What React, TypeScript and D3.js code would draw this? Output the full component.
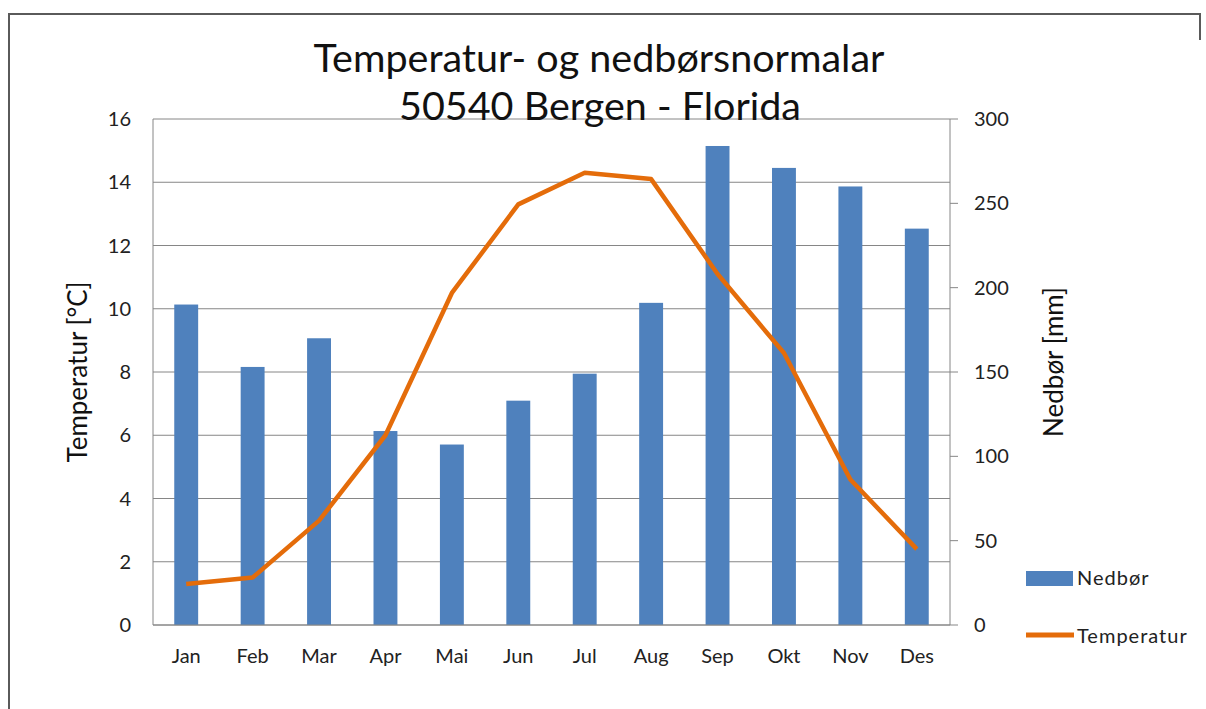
import * as d3 from 'd3';
import React, { useEffect, useRef } from 'react';

const months = ['Jan', 'Feb', 'Mar', 'Apr', 'Mai', 'Jun', 'Jul', 'Aug', 'Sep', 'Okt', 'Nov', 'Des'];
const nedbor = [190, 153, 170, 115, 107, 133, 149, 191, 284, 271, 260, 235];
const temperatur = [1.3, 1.5, 3.3, 6.0, 10.5, 13.3, 14.3, 14.1, 11.1, 8.6, 4.6, 2.4];
const tempTicks = [0, 2, 4, 6, 8, 10, 12, 14, 16];
const nedborTicks = [0, 50, 100, 150, 200, 250, 300];

const FONT = 'Lato, "Open Sans", sans-serif';
const BLUE = '#4f81bd';
const ORANGE = '#e46c0a';
const GREY = '#868686';

const App: React.FC = () => {
  const ref = useRef<SVGSVGElement | null>(null);

  useEffect(() => {
    document.body.style.margin = '0';
    const width = 1206;
    const height = 709;
    const left = 153;
    const right = 950;
    const top = 119;
    const bottom = 625;

    const svg = d3.select(ref.current)
      .attr('width', width)
      .attr('height', height)
      .style('font-family', FONT);
    svg.selectAll('*').remove();

    // outer frame (only top and left edges are visible in the crop)
    svg.append('path')
      .attr('d', `M9,${height} V14 H1200 V40`)
      .attr('fill', 'none')
      .attr('stroke', '#5a5a5a')
      .attr('stroke-width', 2);

    const x = d3.scaleBand<string>().domain(months).range([left, right]).paddingInner(0.64).paddingOuter(0.32);
    const yT = d3.scaleLinear().domain([0, 16]).range([bottom, top]);
    const yN = d3.scaleLinear().domain([0, 300]).range([bottom, top]);

    // gridlines
    svg.append('g').selectAll('line')
      .data(tempTicks)
      .enter()
      .append('line')
      .attr('x1', left)
      .attr('x2', right)
      .attr('y1', (d) => yT(d))
      .attr('y2', (d) => yT(d))
      .attr('stroke', GREY)
      .attr('stroke-width', 1);

    // bars
    svg.append('g').selectAll('rect')
      .data(nedbor)
      .enter()
      .append('rect')
      .attr('x', (_d, i) => x(months[i])!)
      .attr('width', x.bandwidth())
      .attr('y', (d) => yN(d))
      .attr('height', (d) => bottom - yN(d))
      .attr('fill', BLUE);

    // axes lines
    svg.append('line').attr('x1', left).attr('x2', left).attr('y1', top).attr('y2', bottom).attr('stroke', GREY);
    svg.append('line').attr('x1', right).attr('x2', right).attr('y1', top).attr('y2', bottom).attr('stroke', GREY);
    svg.append('line').attr('x1', left).attr('x2', right).attr('y1', bottom).attr('y2', bottom).attr('stroke', GREY);

    // right tick marks
    svg.append('g').selectAll('line')
      .data(nedborTicks)
      .enter()
      .append('line')
      .attr('x1', right)
      .attr('x2', right + 8)
      .attr('y1', (d) => yN(d))
      .attr('y2', (d) => yN(d))
      .attr('stroke', GREY);

    // temperature line
    const line = d3.line<number>()
      .x((_d, i) => x(months[i])! + x.bandwidth() / 2)
      .y((d) => yT(d));
    svg.append('path')
      .datum(temperatur)
      .attr('d', line)
      .attr('fill', 'none')
      .attr('stroke', ORANGE)
      .attr('stroke-width', 4.5)
      .attr('stroke-linejoin', 'round');

    // tick labels
    svg.append('g').selectAll('text')
      .data(tempTicks)
      .enter()
      .append('text')
      .attr('x', 131)
      .attr('y', (d) => yT(d))
      .attr('dy', '0.35em')
      .attr('text-anchor', 'end')
      .attr('font-size', 20)
      .attr('fill', '#222')
      .text((d) => d);

    svg.append('g').selectAll('text')
      .data(nedborTicks)
      .enter()
      .append('text')
      .attr('x', 974)
      .attr('y', (d) => yN(d))
      .attr('dy', '0.35em')
      .attr('font-size', 20)
      .attr('fill', '#222')
      .text((d) => d);

    svg.append('g').selectAll('text')
      .data(months)
      .enter()
      .append('text')
      .attr('x', (d) => x(d)! + x.bandwidth() / 2)
      .attr('y', 663)
      .attr('text-anchor', 'middle')
      .attr('font-size', 20)
      .attr('fill', '#222')
      .text((d) => d);

    // titles
    const title = svg.append('text')
      .attr('text-anchor', 'middle')
      .attr('font-size', 39.5)
      .attr('fill', '#111');
    title.append('tspan').attr('x', 599).attr('y', 72).text('Temperatur- og nedbørsnormalar');
    title.append('tspan').attr('x', 600).attr('y', 120).text('50540 Bergen - Florida');

    svg.append('text')
      .attr('transform', `translate(87,${(top + bottom) / 2}) rotate(-90)`)
      .attr('text-anchor', 'middle')
      .attr('font-size', 26)
      .attr('fill', '#111')
      .text('Temperatur [°C]');

    svg.append('text')
      .attr('transform', `translate(1063,${(top + bottom) / 2 - 10}) rotate(-90)`)
      .attr('text-anchor', 'middle')
      .attr('font-size', 26)
      .attr('fill', '#111')
      .text('Nedbør [mm]');

    // legend
    const legend = svg.append('g');
    legend.append('rect').attr('x', 1026).attr('y', 571).attr('width', 47).attr('height', 15).attr('fill', BLUE);
    legend.append('text').attr('x', 1077).attr('y', 585).attr('font-size', 20).attr('letter-spacing', 1)
      .attr('fill', '#222').text('Nedbør');
    legend.append('line').attr('x1', 1026).attr('x2', 1074).attr('y1', 635).attr('y2', 635)
      .attr('stroke', ORANGE).attr('stroke-width', 5);
    legend.append('text').attr('x', 1077).attr('y', 643).attr('font-size', 20).attr('letter-spacing', 1)
      .attr('fill', '#222').text('Temperatur');
  }, []);

  return <svg ref={ref}></svg>;
};

export default App;
